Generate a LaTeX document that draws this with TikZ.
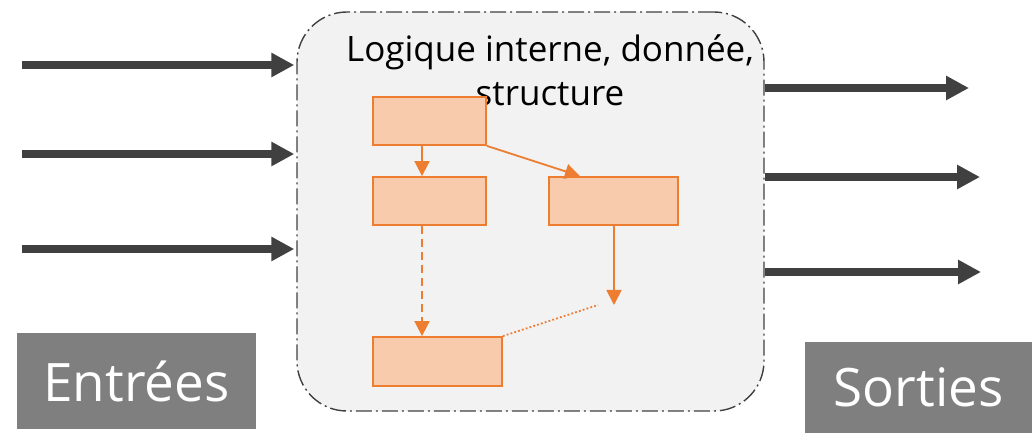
\documentclass[tikz,border=0pt]{standalone}
\usepackage{fontspec}
\setmainfont{Open Sans}
\usetikzlibrary{arrows.meta,calc}
\definecolor{darkline}{HTML}{404040}
\definecolor{panel}{HTML}{F2F2F2}
\definecolor{orangeline}{HTML}{ED7D31}
\definecolor{orangefill}{HTML}{F8CBAD}
\definecolor{labelgray}{HTML}{7F7F7F}
\tikzset{
  flowbox/.style={draw=orangeline, fill=orangefill, line width=1.8pt, inner sep=0pt},
  flowarrow/.style={draw=orangeline, line width=1.8pt, -{Triangle[length=15pt,width=15pt]}},
  bigarrow/.style={draw=darkline, line width=8pt, -{Triangle[length=23pt,width=23pt]}},
  iolabel/.style={fill=labelgray, text=white, inner sep=0pt, font=\fontsize{53}{60}\selectfont}
}
\begin{document}
\begin{tikzpicture}[x=1pt, y=-1pt]
  \useasboundingbox (0,0) rectangle (1032,435);

  % processing block
  \node[draw=darkline, fill=panel, line width=1.4pt, rounded corners=50pt,
        dash pattern=on 16pt off 4pt on 2pt off 4pt,
        minimum width=467pt, minimum height=399pt, inner sep=0pt]
        (core) at (530.5,211.5) {};
  \node[align=center, inner sep=0pt, font=\fontsize{35}{44}\selectfont]
        (title) at (550,70) {Logique interne, donnée,\\structure};

  % internal structure
  \node[flowbox, minimum width=113pt, minimum height=48pt] (b1) at (429.5,121) {};
  \node[flowbox, minimum width=113pt, minimum height=48pt] (b2) at (429.5,201) {};
  \node[flowbox, minimum width=129pt, minimum height=48pt] (b3) at (613.5,201) {};
  \node[flowbox, minimum width=129pt, minimum height=49pt] (b4) at (437.5,361.5) {};
  \coordinate (loose) at (614,305);
  \coordinate (dotend) at (598,305);

  \draw[flowarrow] (b1.south -| 422,0) -- (b2.north -| 422,0);
  \draw[flowarrow] (b1.south east) -- (b3.north -| 580,0);
  \draw[flowarrow, dash pattern=on 8pt off 5pt] (b2.south -| 422,0) -- (b4.north -| 422,0);
  \draw[flowarrow] (b3.south -| loose) -- (loose);
  \draw[draw=orangeline, line width=1.8pt, dash pattern=on 1.8pt off 2.2pt] (b4.north east) -- (dotend);

  % inputs
  \coordinate (in1) at (22,65);
  \coordinate (in2) at (22,154);
  \coordinate (in3) at (22,249);
  \foreach \i in {1,2,3}
    \draw[bigarrow] (in\i) -- ($(in\i -| core.west)+(-2,0)$);

  % outputs
  \coordinate (out1) at (969,88);
  \coordinate (out2) at (980,177);
  \coordinate (out3) at (981,272);
  \foreach \i in {1,2,3}
    \draw[bigarrow] (out\i -| core.east) -- (out\i);

  % labels
  \node[iolabel, minimum width=239pt, minimum height=96pt] (inlabel) at (136.5,381) {Entrées};
  \node[iolabel, minimum width=227pt, minimum height=91pt] (outlabel) at (918.5,387.5) {Sorties};
\end{tikzpicture}
\end{document}
